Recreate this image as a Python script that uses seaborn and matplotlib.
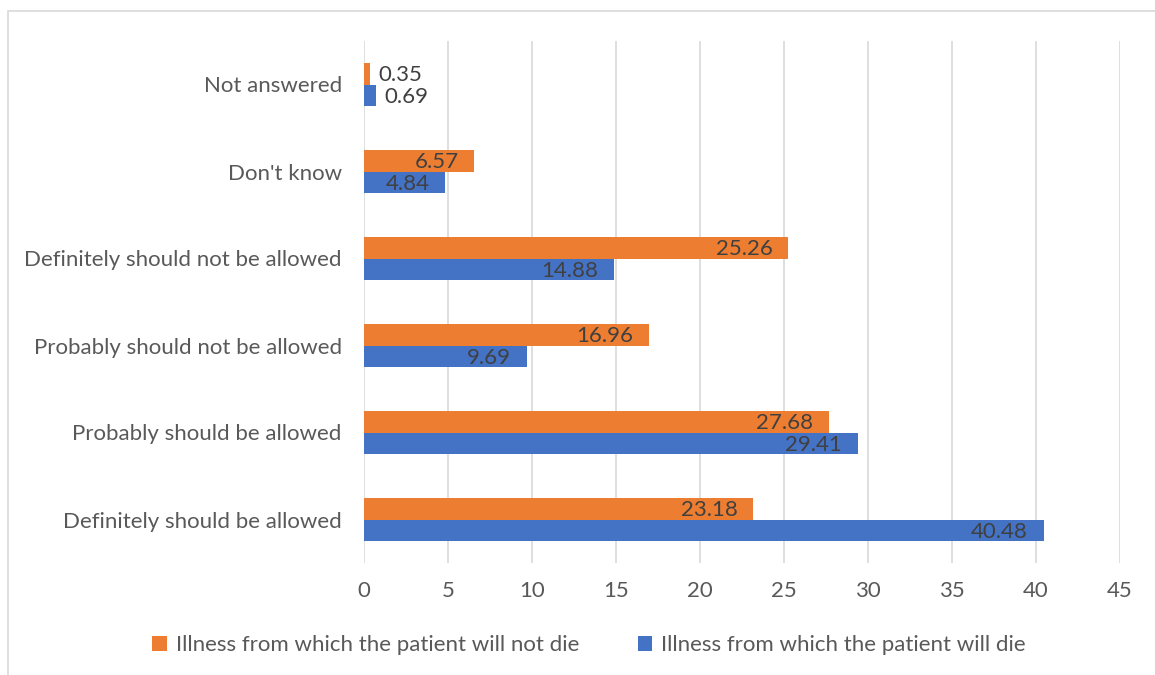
import matplotlib
matplotlib.use("Agg")
import matplotlib.pyplot as plt
from matplotlib.patches import Rectangle, Patch
import seaborn as sns
import pandas as pd

categories = [
    "Not answered",
    "Don't know",
    "Definitely should not be allowed",
    "Probably should not be allowed",
    "Probably should be allowed",
    "Definitely should be allowed",
]
series_names = [
    "Illness from which the patient will not die",
    "Illness from which the patient will die",
]
will_not_die = [0.35, 6.57, 25.26, 16.96, 27.68, 23.18]
will_die = [0.69, 4.84, 14.88, 9.69, 29.41, 40.48]
x_ticks = [0, 5, 10, 15, 20, 25, 30, 35, 40, 45]

colors = ["#ED7D31", "#4472C4"]
label_color = "#404040"
tick_color = "#595959"
grid_color = "#D9D9D9"
fs = 16

df = pd.DataFrame({
    "category": categories * 2,
    "series": [series_names[0]] * len(categories) + [series_names[1]] * len(categories),
    "value": will_not_die + will_die,
})

sns.set_theme(style="white")
plt.rcParams["font.family"] = ["Lato", "DejaVu Sans"]

fig = plt.figure(figsize=(11.55, 6.75), dpi=100)
ax = fig.add_axes([364 / 1155, 1 - 563 / 675, (1120 - 364) / 1155, (563 - 41) / 675])

sns.barplot(
    data=df, y="category", x="value", hue="series",
    order=categories, hue_order=series_names, palette=colors,
    orient="h", width=0.5, linewidth=0, saturation=1, legend=False, ax=ax,
)

ax.set_xlim(0, 45)
ax.set_xticks(x_ticks)
ax.set_xlabel("")
ax.set_ylabel("")
ax.xaxis.grid(True, color=grid_color, linewidth=1.2)
ax.set_axisbelow(True)
for side in ax.spines.values():
    side.set_visible(False)
ax.tick_params(axis="x", length=0, pad=13, labelsize=fs, labelcolor=tick_color)
ax.tick_params(axis="y", length=0, pad=16, labelsize=fs, labelcolor=tick_color)

# Value labels: inside the bar end, or just outside for tiny bars
for container, values in zip(ax.containers, [will_not_die, will_die]):
    for bar, v in zip(container, values):
        yc = bar.get_y() + bar.get_height() / 2
        if v < 2:
            ax.annotate(f"{v:.2f}", xy=(v, yc), xytext=(6, -1), textcoords="offset points",
                        ha="left", va="center", fontsize=fs, color=label_color)
        else:
            ax.annotate(f"{v:.2f}", xy=(v, yc), xytext=(-11.5, -1), textcoords="offset points",
                        ha="right", va="center", fontsize=fs, color=label_color)

handles = [Patch(facecolor=c, edgecolor="none") for c in colors]
fig.legend(handles, series_names, loc="center", bbox_to_anchor=(589 / 1155, 1 - 645 / 675),
           ncol=2, frameon=False, fontsize=fs, labelcolor=tick_color,
           handlelength=0.65, handleheight=0.65, handletextpad=0.4, columnspacing=2.65)

# Chart area border
fig.patches.append(Rectangle((8 / 1155, -0.1), 1.2, 1.1 - 11 / 675, transform=fig.transFigure,
                             fill=False, edgecolor=grid_color, linewidth=1.2))

fig.savefig("out.png", dpi=100)
